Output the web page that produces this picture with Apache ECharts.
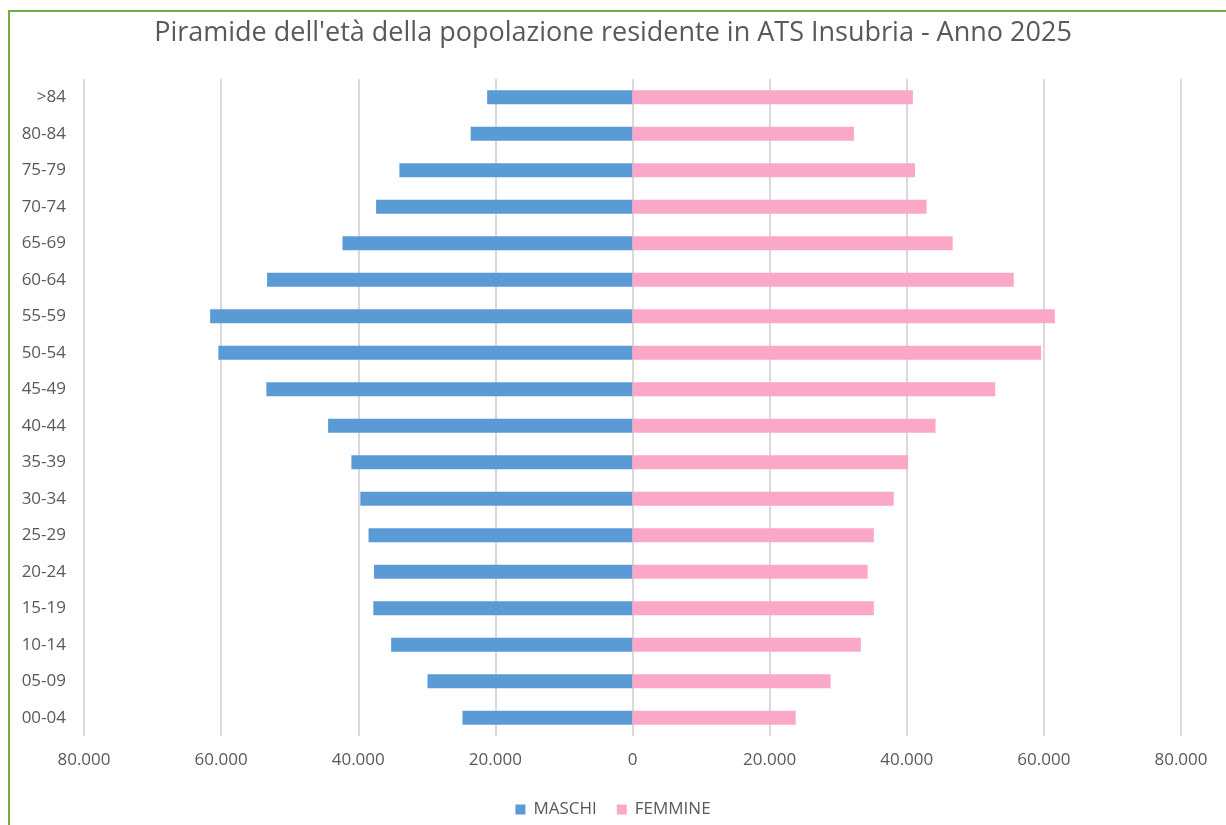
<!DOCTYPE html>
<html>
<head>
<meta charset="utf-8">
<script src="https://cdn.jsdelivr.net/npm/echarts@6/dist/echarts.min.js"></script>
<style>
  html, body { margin: 0; padding: 0; background: #fff; overflow: hidden; }
  #frame { position: absolute; left: 8px; top: 10px; width: 1240px; height: 840px; border: 2px solid #70AD47; box-sizing: border-box; }
  #chart { position: absolute; left: 0; top: 0; width: 1226px; height: 825px; }
</style>
</head>
<body>
<div id="frame"></div>
<div id="chart"></div>
<script>
const classi = ['00-04', '05-09', '10-14', '15-19', '20-24', '25-29', '30-34', '35-39', '40-44',
    '45-49', '50-54', '55-59', '60-64', '65-69', '70-74', '75-79', '80-84', '>84']
const maschi = [24800, 29900, 35200, 37800, 37700, 38500, 39700, 41000, 44400,
    53400, 60400, 61600, 53300, 42300, 37400, 34000, 23600, 21200]
const femmine = [23800, 28900, 33300, 35200, 34300, 35200, 38100, 40200, 44200,
    52900, 59600, 61600, 55600, 46700, 42900, 41200, 32300, 40900]
const xTicks = [-80000, -60000, -40000, -20000, 0, 20000, 40000, 60000, 80000]

const fmt = v => Math.abs(v).toString().replace(/\B(?=(\d{3})+(?!\d))/g, '.')

const chart = echarts.init(document.getElementById('chart'))
chart.setOption({
    animation: false,
    textStyle: { fontFamily: 'Open Sans' },
    title: {
        text: "Piramide dell'età della popolazione residente in ATS Insubria - Anno 2025",
        left: 'center', top: 15,
        textStyle: { fontSize: 27, fontWeight: 'normal', color: '#595959', fontFamily: 'Open Sans' }
    },
    legend: {
        bottom: 2, left: 'center', itemWidth: 10, itemHeight: 10, itemGap: 20, icon: 'rect',
        textStyle: { fontSize: 17, color: '#595959', fontFamily: 'Open Sans', padding: [0, 0, 0, 3] },
        data: ['MASCHI', 'FEMMINE']
    },
    grid: { left: 84, right: 45, top: 79, bottom: 89 },
    xAxis: {
        type: 'value', min: xTicks[0], max: xTicks[xTicks.length - 1], interval: 20000,
        axisLine: { show: false }, axisTick: { show: false },
        splitLine: { lineStyle: { color: '#D9D9D9', width: 2 } },
        axisLabel: { formatter: fmt, fontSize: 17, color: '#595959', margin: 16 }
    },
    yAxis: {
        type: 'category', data: classi,
        axisLine: { show: false }, axisTick: { show: false },
        axisLabel: { fontSize: 17, color: '#595959', margin: 18 }
    },
    series: [
        {
            name: 'MASCHI', type: 'bar', stack: 'pop', barWidth: 14,
            itemStyle: { color: '#5B9BD5' },
            data: maschi.map(v => -v)
        },
        {
            name: 'FEMMINE', type: 'bar', stack: 'pop', barWidth: 14,
            itemStyle: { color: '#FBA8C8' },
            data: femmine
        }
    ]
})
</script>
</body>
</html>
